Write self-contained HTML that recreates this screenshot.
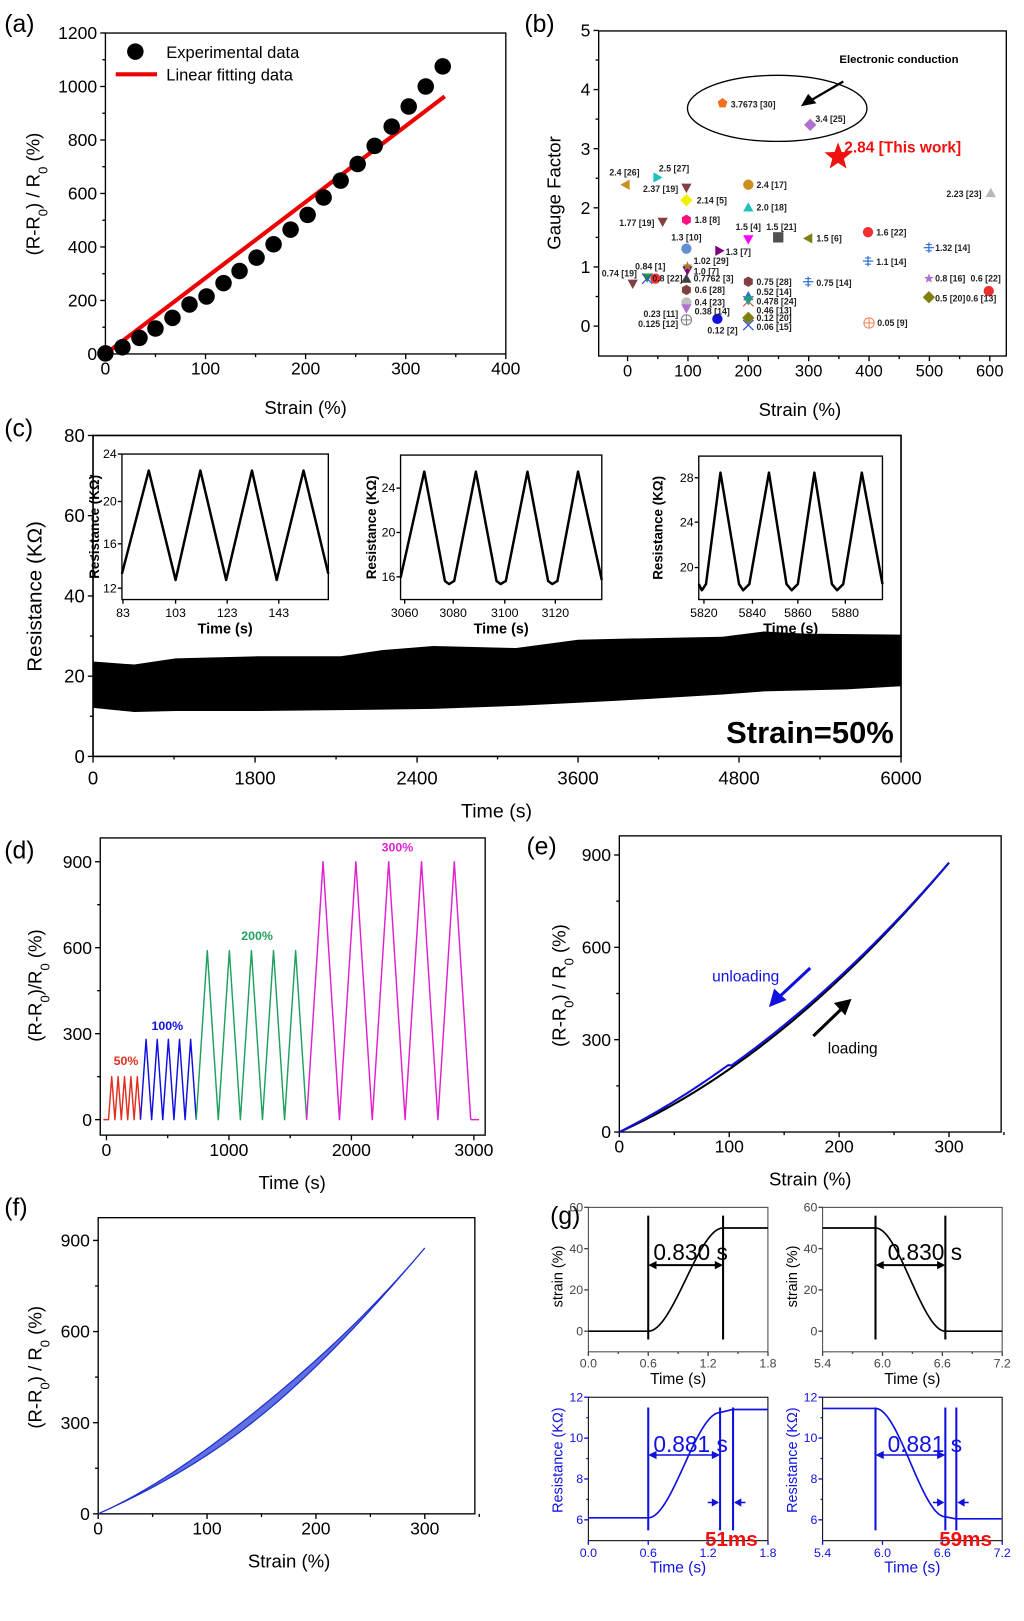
<!DOCTYPE html>
<html><head><meta charset="utf-8"><style>body{margin:0;background:#fff}</style></head>
<body>
<svg id="s" xmlns="http://www.w3.org/2000/svg" width="1024" height="1616" viewBox="0 0 992 1566" font-family="Liberation Sans, Arial, sans-serif">
<rect x="0" y="0" width="992" height="1566" fill="#fff"/>
</svg>
<script>
const NS='http://www.w3.org/2000/svg',S=document.getElementById('s');
function E(t,a,p){const e=document.createElementNS(NS,t);for(const k in a)e.setAttribute(k,a[k]);(p||S).appendChild(e);return e}
function T(x,y,s,sz,o){o=o||{};const a={x:x,y:y,'font-size':sz,fill:o.fill||'#000','text-anchor':o.a||'middle','font-weight':o.w||'normal'};if(o.rot)a.transform='rotate(-90 '+x+' '+y+')';const e=E('text',a);e.innerHTML=s;return e}
function L(x1,y1,x2,y2,c,w){return E('line',{x1:x1,y1:y1,x2:x2,y2:y2,stroke:c||'#000','stroke-width':w||1.3})}
function P(d,c,w,f){return E('path',{d:d,stroke:c||'#000','stroke-width':w||1.5,fill:f||'none','stroke-linejoin':'round'})}
function box(x0,y0,x1,y1,c,w){E('rect',{x:x0,y:y0,width:x1-x0,height:y1-y0,fill:'none',stroke:c||'#000','stroke-width':w||1.3})}
function xt(vals,fx,y,sz,c,lab,dy){vals.forEach((v,i)=>{const x=fx(v);L(x,y,x,y+5,c);T(x,y+(dy||20),lab?lab[i]:v,sz,{fill:c||'#000'})})}
function mxt(vals,fx,y,c){vals.forEach(v=>{const x=fx(v);L(x,y,x,y+3,c)})}
function yt(vals,fy,x,sz,c,lab,tc){vals.forEach((v,i)=>{const y=fy(v);L(x-5,y,x,y,c);T(x-8,y+sz*0.35,lab?lab[i]:v,sz,{fill:tc||c||'#000',a:'end'})})}
function myt(vals,fy,x,c){vals.forEach(v=>{const y=fy(v);L(x-3,y,x,y,c)})}
function poly(pts,c,sc,sw){return E('polygon',{points:pts.map(p=>p.join(',')).join(' '),fill:c,stroke:sc||'none','stroke-width':sw||0.6})}
function rng(a,b,s){const r=[];for(let v=a;v<=b+1e-9;v+=s)r.push(+v.toFixed(4));return r}
const sub=s=>'<tspan baseline-shift="sub" font-size="0.7em">'+s+'</tspan>';

/* ---------- (a) ---------- */
(function(){
const fx=s=>102+s*0.97,fy=v=>343-v*0.2592;
box(102,32,490,343);
xt([0,100,200,300,400],fx,343,17);mxt([50,150,250,350],fx,343);
yt(rng(0,1200,200),fy,102,17);myt(rng(100,1100,200),fy,102);
P('M'+fx(0)+' '+fy(0)+' L'+fx(339)+' '+fy(963),'#e00',4);
const d=[[0,2],[17,25],[34,60],[50,95],[67,135],[84,185],[101,215],[118,265],[134,310],[151,360],[168,410],[185,465],[202,520],[218,585],[235,648],[252,710],[269,778],[286,850],[303,925],[320,1000],[337,1075]];
d.forEach(p=>E('circle',{cx:fx(p[0]),cy:fy(p[1]),r:8,fill:'#000'}));
E('circle',{cx:131,cy:50,r:8,fill:'#000'});T(161,56,'Experimental data',16,{a:'start'});
L(112,72,152,72,'#e00',4);T(161,78,'Linear fitting data',16,{a:'start'});
T(38,188,'(R-R'+sub('0')+') / R'+sub('0')+' (%)',18,{rot:1});
T(296,401,'Strain (%)',18);
T(4,31,'(a)',24,{a:'start'});
})();

/* ---------- (b) ---------- */
(function(){
const fx=s=>608+s*0.585,fy=g=>316-g*57.3;
box(580,30,975,345);
xt(rng(0,600,100),fx,345,16);mxt(rng(50,550,100),fx,345);
yt([0,1,2,3,4,5],fy,580,17);myt([0.5,1.5,2.5,3.5,4.5],fy,580);
T(543,187,'Gauge Factor',18,{rot:1});
T(775,403,'Strain (%)',18);
T(508,31,'(b)',24,{a:'start'});
function mk(t,x,y,c,r){r=r||5;
 if(t=='circ')E('circle',{cx:x,cy:y,r:r,fill:c});
 else if(t=='sq')E('rect',{x:x-r,y:y-r,width:2*r,height:2*r,fill:c});
 else if(t=='tu')poly([[x,y-r],[x+r,y+r*.8],[x-r,y+r*.8]],c);
 else if(t=='td')poly([[x,y+r],[x+r,y-r*.8],[x-r,y-r*.8]],c);
 else if(t=='tl')poly([[x-r,y],[x+r*.8,y-r],[x+r*.8,y+r]],c);
 else if(t=='tr')poly([[x+r,y],[x-r*.8,y-r],[x-r*.8,y+r]],c);
 else if(t=='dia')poly([[x,y-r*1.2],[x+r*1.2,y],[x,y+r*1.2],[x-r*1.2,y]],c);
 else if(t=='hex'||t=='pent'){const n=t=='hex'?6:5,p=[];for(let i=0;i<n;i++){const a=-Math.PI/2+i*2*Math.PI/n;p.push([x+r*Math.cos(a),y+r*Math.sin(a)])}poly(p,c)}
 else if(t=='star'){const p=[];for(let i=0;i<10;i++){const a=-Math.PI/2+i*Math.PI/5,rr=i%2?r*0.42:r;p.push([x+rr*Math.cos(a),y+rr*Math.sin(a)])}poly(p,c)}
 else if(t=='sn'){L(x-r,y,x+r,y,c,1.2);L(x,y-r,x,y+r,c,1.2);L(x-r*.6,y-r*.6,x+r*.6,y-r*.6,c,1);L(x-r*.6,y+r*.6,x+r*.6,y+r*.6,c,1);}
 else if(t=='x'){L(x-r,y-r,x+r,y+r,c,1.2);L(x-r,y+r,x+r,y-r,c,1.2)}
 else if(t=='circx'){E('circle',{cx:x,cy:y,r:r,fill:'none',stroke:c,'stroke-width':1});L(x-r,y,x+r,y,c,1);L(x,y-r,x,y+r,c,1)}
}
const M=[
['pent',700,100,'#f07020'],['dia',785,121,'#b070d0'],['tl',606,179,'#c89020'],['tr',637,172,'#20c0c0'],
['td',665,182,'#804040'],['dia',665,194,'#f0f000'],['circ',725,179,'#c89020'],['tu',725,201,'#20c0c0'],
['td',642,215,'#804040'],['hex',665,213,'#ff1080'],['td',725,232,'#ff00ff'],['sq',754,230,'#505050'],
['tl',783,231,'#808010'],['circ',841,225,'#f03030'],['circ',665,241,'#6090d0'],['tr',697,243,'#800080'],
['sn',900,240,'#3070d0'],['sn',841,253,'#3070d0'],['tu',960,187,'#b8b8b8'],['td',666,262,'#800080'],['star',666,258,'#a08020'],
['td',627,269,'#20a020'],['x',627,270,'#3050e0'],['circ',635,270,'#f03030'],['td',613,275,'#804040'],['tu',665,270,'#404040'],
['hex',725,273,'#804040'],['sn',783,273,'#3070d0'],['star',900,270,'#b070d0'],['circ',958,282,'#f03030'],
['hex',665,281,'#804040'],['tu',725,287,'#3070d0'],['x',725,292,'#f05050'],['td',725,291,'#20a080'],['dia',900,288,'#808010'],
['circ',665,293,'#c0c0c0'],['td',665,299,'#b070d0'],['circx',665,310,'#808080'],['circ',695,309,'#1010e0'],
['dia',725,308,'#808010'],['x',725,315,'#3050e0'],['circx',842,313,'#f08050']];
M.forEach(m=>mk(m[0],m[1],m[2],m[3]));
const lb=[['3.7673 [30]',708,104,'start'],['3.4 [25]',790,118,'start'],['2.4 [26]',605,170,'middle'],['2.5 [27]',653,166,'middle'],
['2.37 [19]',657,186,'end'],['2.14 [5]',675,197,'start'],['2.4 [17]',733,182,'start'],['2.0 [18]',733,204,'start'],
['1.77 [19]',634,219,'end'],['1.8 [8]',673,216,'start'],['1.5 [4]',725,223,'middle'],['1.5 [21]',757,223,'middle'],
['1.5 [6]',791,234,'start'],['1.6 [22]',849,228,'start'],['1.3 [10]',665,233,'middle'],['1.3 [7]',703,247,'start'],
['1.32 [14]',906,243,'start'],['1.1 [14]',849,257,'start'],['2.23 [23]',951,191,'end'],['1.02 [29]',672,256,'start'],
['1.0 [7]',672,266,'start'],['0.84 [1]',630,261,'middle'],['0.8 [22]',632,273,'start'],['0.74 [19]',600,268,'middle'],
['0.7762 [3]',672,273,'start'],['0.75 [28]',733,276,'start'],['0.75 [14]',791,277,'start'],['0.8 [16]',906,273,'start'],
['0.6 [22]',955,273,'middle'],['0.6 [28]',673,284,'start'],['0.52 [14]',733,286,'start'],['0.478 [24]',733,295,'start'],
['0.46 [13]',733,304,'start'],['0.5 [20]',906,292,'start'],['0.6 [13]',936,292,'start'],['0.4 [23]',673,296,'start'],
['0.38 [14]',673,305,'start'],['0.23 [11]',657,307,'end'],['0.125 [12]',657,317,'end'],['0.12 [2]',700,323,'middle'],
['0.12 [20]',733,311,'start'],['0.06 [15]',733,320,'start'],['0.05 [9]',850,316,'start']];
lb.forEach(l=>T(l[1],l[2],l[0],8.5,{a:l[3],w:'bold',fill:'#222'}));
E('ellipse',{cx:753,cy:105,rx:87,ry:32,fill:'none',stroke:'#000','stroke-width':1.3});
L(817,79,786,97,'#000',2.2);poly([[776,103],[783,91],[791,100]],'#000');
T(871,61,'Electronic conduction',11,{w:'bold'});
mk('star',812,152,'#f01010',14);
T(818,148,'2.84 [This work]',15,{a:'start',w:'bold',fill:'#f01010'});
})();

/* ---------- (c) ---------- */
(function(){
box(90,422,873,733,'#000',1.6);
const xs=[90,247,404,560,716,873],lab=['0','1800','2400','3600','4800','6000'];
xs.forEach((x,i)=>{L(x,733,x,739);T(x,760,lab[i],18)});
for(let i=0;i<5;i++){const x=(xs[i]+xs[i+1])/2;L(x,733,x,736)}
const fy=v=>733-v*3.8875;
yt([0,20,40,60,80],fy,90,18);myt([10,30,50,70],fy,90);
T(40,578,'Resistance (KΩ)',20,{rot:1});
T(481,792,'Time (s)',19);
T(4,423,'(c)',24,{a:'start'});
const top=[[90,641],[130,644],[170,638],[250,636],[330,636],[370,630],[420,626],[500,628],[560,620],[600,619],[700,617],[740,612],[780,614],[873,615]];
const bot=[[873,665],[820,668],[740,670],[700,673],[600,679],[560,681],[500,684],[420,687],[340,688],[250,689],[170,689],[130,690],[90,686]];
poly(top.concat(bot),'#000');
T(866,720,'Strain=50%',30,{a:'end',w:'bold'});
function inset(x0,x1,y0,y1,yl,xl,pts,lx){
 box(x0,y0,x1,y1,'#000',1.3);
 yl.forEach(p=>{L(x0-4,p[1],x0,p[1]);T(x0-5,p[1]+4,p[0],12,{a:'end'})});
 xl.forEach(p=>{L(p[1],y1,p[1],y1+4);T(p[1],y1+17,p[0],12)});
 P('M'+pts.map(p=>p.join(' ')).join(' L'),'#000',2.4);
 T(lx,(y0+y1)/2,'Resistance (KΩ)',13,{rot:1,w:'bold'});
 T((x0+x1)/2,y1+33,'Time (s)',14,{w:'bold'});
}
inset(118,318,440,581,[['24',440],['20',486],['16',527],['12',570]],[['83',119],['103',170],['123',220],['143',270]],
 [[118,556],[144,456],[170,562],[194,456],[219,562],[244,456],[268,562],[294,456],[318,556]],96);
inset(388,583,441,581,[['24',473],['20',516],['16',559]],[['3060',392],['3080',439],['3100',489],['3120',538]],
 [[388,560],[411,457],[431,563],[435,566],[440,563],[461,457],[481,563],[485,566],[490,563],[511,457],[531,563],[535,566],[540,563],[560,457],[583,562]],364);
inset(677,855,442,581,[['28',463],['24',506],['20',550]],[['5820',682],['5840',729],['5860',773],['5880',819]],
 [[677,566],[680,572],[684,566],[698,458],[716,566],[720,572],[726,566],[745,458],[762,566],[767,572],[773,566],[789,458],[806,566],[811,572],[817,566],[835,458],[855,566]],642);
})();

/* ---------- (d) ---------- */
(function(){
const fx=t=>103+t*0.1187,fy=v=>1085-v*0.2777;
box(97,812,470,1100);
xt([0,1000,2000,3000],fx,1100,17);mxt([500,1500,2500],fx,1100);
yt([0,300,600,900],fy,97,17);myt([150,450,750],fy,97);
T(40,955,'(R-R'+sub('0')+')/R'+sub('0')+' (%)',18,{rot:1});
T(283,1152,'Time (s)',18);
T(4,832,'(d)',24,{a:'start'});
function seg(x0,x1,A,c,pre){let d='M'+(pre||x0)+' '+fy(0)+' L'+x0+' '+fy(0);const p=(x1-x0)/5;for(let i=0;i<5;i++){d+=' L'+(x0+p*(i+0.5))+' '+fy(A)+' L'+(x0+p*(i+1))+' '+fy(0)}P(d,c,1.4)}
seg(105,136,150,'#e03020',100);seg(136,190,280,'#1010e0');seg(190,297,590,'#20a060');seg(297,456,900,'#e020d0');
P('M456 '+fy(0)+' L464 '+fy(0),'#e020d0',1.4);
T(122,1032,'50%',12,{w:'bold',fill:'#e03020'});
T(162,998,'100%',12,{w:'bold',fill:'#1010e0'});
T(249,911,'200%',12,{w:'bold',fill:'#20a060'});
T(385,825,'300%',12,{w:'bold',fill:'#e020d0'});
})();

/* ---------- (e) ---------- */
(function(){
const fx=s=>600+s*1.065,fy=v=>1097-v*0.2983;
box(600,810,970,1097);
xt([0,100,200,300],fx,1097,17);mxt([50,150,250,350],fx,1097);
yt([0,300,600,900],fy,600,17);myt([150,450,750],fy,600);
T(548,955,'(R-R'+sub('0')+') / R'+sub('0')+' (%)',18,{rot:1});
T(785,1149,'Strain (%)',18);
T(510,828,'(e)',24,{a:'start'});
const f=s=>1.6*s+0.00439*s*s;
let a='',b='';for(let s=0;s<=300;s+=3){a+=(s?' L':'M')+fx(s)+' '+fy(f(s));b+=(s?' L':'M')+fx(s)+' '+fy(f(s)+14*Math.sin(Math.PI*s/300)*(s<100?1.3:0.6))}
P(a,'#000',2);P(b,'#1010e0',2);
T(690,951,'unloading',15,{a:'start',fill:'#1010e0'});
L(785,938,755,966,'#1010e0',3);poly([[745,976],[750,958],[762,969]],'#1010e0');
T(802,1021,'loading',15,{a:'start'});
L(788,1004,815,978,'#000',3);poly([[825,968],[808,972],[819,984]],'#000');
})();

/* ---------- (f) ---------- */
(function(){
const fx=s=>95+s*1.055,fy=v=>1467-v*0.2944;
box(95,1180,460,1467);
xt([0,100,200,300],fx,1467,17);mxt([50,150,250,350],fx,1467);
yt([0,300,600,900],fy,95,17);myt([150,450,750],fy,95);
T(40,1325,'(R-R'+sub('0')+') / R'+sub('0')+' (%)',18,{rot:1});
T(280,1519,'Strain (%)',18);
T(4,1178,'(f)',24,{a:'start'});
const f=s=>1.6*s+0.00439*s*s;
let up=[],lo=[];for(let s=0;s<=300;s+=3){const d=14*Math.pow(Math.sin(Math.PI*s/300),2);up.push([fx(s),fy(f(s)+d)]);lo.push([fx(s),fy(f(s)-d)])}
poly(up.concat(lo.reverse()),'#6070e0','#2030d0',1.2);
})();

/* ---------- (g) ---------- */
(function(){
T(533,1186,'(g)',24,{a:'start'});
const ss=t=>t<0?0:t>1?1:t*t*(3-2*t);
function arrowH(x0,x1,y,c,w){L(x0+6,y,x1-6,y,c,w||2);poly([[x0,y],[x0+8,y-4],[x0+8,y+4]],c);poly([[x1,y],[x1-8,y-4],[x1-8,y+4]],c)}
function top(x0,t0,lines,rise){
 const x1=x0+174,fx=t=>x0+(t-t0)*96.7,fy=v=>1290-v*2.0;
 box(x0,1170,x1,1310,'#444',1);
 [0,0.6,1.2,1.8].forEach(d=>{const x=fx(t0+d);L(x,1310,x,1314,'#444');T(x,1325,(t0+d).toFixed(1),12,{fill:'#444'})});
 [0.3,0.9,1.5].forEach(d=>{const x=fx(t0+d);L(x,1310,x,1312,'#444')});
 [0,20,40,60].forEach(v=>{L(x0-4,fy(v),x0,fy(v),'#444');T(x0-5,fy(v)+4,v,12,{fill:'#444',a:'end'})});
 let d='';for(let t=t0;t<=t0+1.8+1e-6;t+=0.01){const a=ss((t-lines[0])/(lines[1]-lines[0]));const v=rise?50*a:50*(1-a);d+=(d?' L':'M')+fx(t)+' '+fy(v)}
 P(d,'#000',1.6);
 lines.forEach(t=>L(fx(t),1178,fx(t),1298,'#000',2));
 arrowH(fx(lines[0]),fx(lines[1]),1226,'#000');
 T(x0+63,1221,'0.830 s',22,{a:'start'});
 T(x0-25,1237,'strain (%)',14,{rot:1});
 T(x0+87,1341,'Time (s)',15);
}
top(570,0,[0.6,1.35],true);top(797,5.4,[5.93,6.63],false);
function bot(x0,t0,l1,l2,l3,rise,lab){
 const B='#1010e0',x1=x0+174,fx=t=>x0+(t-t0)*96.7,fy=v=>1354+(12-v)*19.8;
 box(x0,1354,x1,1493,'#000',1);
 [0,0.6,1.2,1.8].forEach(d=>{const x=fx(t0+d);L(x,1493,x,1497,B);T(x,1509,(t0+d).toFixed(1),12,{fill:B})});
 [6,8,10,12].forEach(v=>{L(x0-4,fy(v),x0,fy(v),B);T(x0-5,fy(v)+4,v,12,{fill:B,a:'end'})});
 [7,9,11].forEach(v=>L(x0-2,fy(v),x0,fy(v),B));
 let d='';for(let t=t0;t<=t0+1.8+1e-6;t+=0.01){let v;if(rise){const a=ss((t-l1)/(l2-l1));v=6.1+5.15*a+(t>l2?Math.min(0.15,(t-l2)*1.2):0)}else{const a=ss((t-l1)/(l2-l1));v=11.45-5.3*a-(t>l2?Math.min(0.1,(t-l2)):0)}d+=(d?' L':'M')+fx(t)+' '+fy(v)}
 P(d,B,1.6);
 [l1,l2,l3].forEach(t=>L(fx(t),1364,fx(t),1483,B,2));
 arrowH(fx(l1),fx(l2),1410,B,1.5);
 T(x0+63,1407,'0.881 s',22,{a:'start',fill:B});
 const a=fx(l2),b=fx(l3);L(a-12,1456,a-2,1456,B,1.5);poly([[a-1,1456],[a-8,1452],[a-8,1460]],B);
 L(b+2,1456,b+12,1456,B,1.5);poly([[b+1,1456],[b+8,1452],[b+8,1460]],B);
 T(x0+113,1498,lab,20,{a:'start',w:'bold',fill:'#f01010'});
 T(x0-25,1415,'Resistance (KΩ)',14,{rot:1,fill:B});
 T(x0+87,1524,'Time (s)',15,{fill:B});
}
bot(570,0,0.6,1.32,1.45,true,'51ms');bot(797,5.4,5.93,6.63,6.74,false,'59ms');
})();
</script>
</body></html>
